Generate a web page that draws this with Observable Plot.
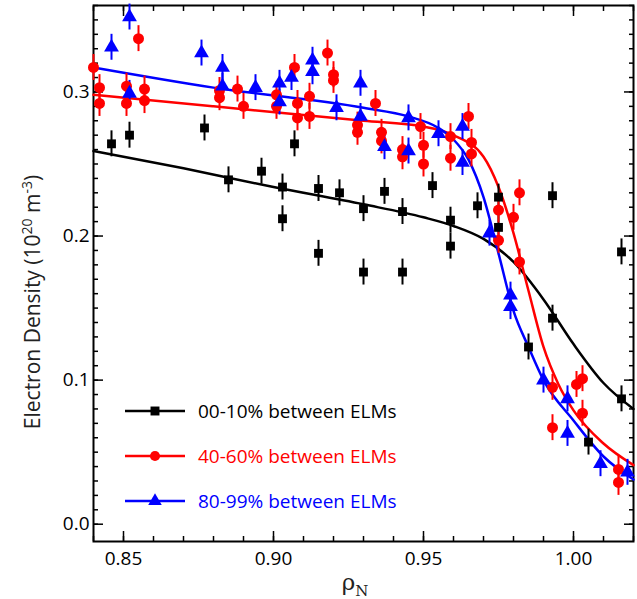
<!DOCTYPE html>
<html><head><meta charset="utf-8">
<script src="https://cdn.jsdelivr.net/npm/d3@7"></script>
<script src="https://cdn.jsdelivr.net/npm/@observablehq/plot@0.6"></script>
<style>body{margin:0;background:#fff}</style>
</head><body><div id="chart"></div>
<script>
// measured points: [rho, density]
const black = [[0.846,0.264],[0.852,0.270],[0.877,0.275],[0.885,0.239],[0.896,0.245],[0.903,0.234],[0.903,0.212],[0.907,0.264],
  [0.915,0.233],[0.915,0.188],[0.922,0.230],[0.930,0.219],[0.930,0.175],[0.937,0.231],[0.943,0.217],[0.943,0.175],[0.953,0.235],
  [0.959,0.211],[0.959,0.193],[0.968,0.221],[0.975,0.227],[0.975,0.206],[0.985,0.123],[0.993,0.228],[0.993,0.143],[1.005,0.057],
  [1.016,0.189],[1.016,0.087]];
const red = [[0.840,0.317],[0.842,0.303],[0.842,0.292],[0.855,0.337],[0.851,0.304],[0.851,0.292],[0.857,0.302],[0.857,0.294],
  [0.882,0.301],[0.882,0.296],[0.888,0.302],[0.890,0.290],[0.901,0.298],[0.901,0.290],[0.907,0.317],[0.908,0.292],[0.908,0.282],
  [0.912,0.297],[0.912,0.283],[0.918,0.327],[0.920,0.312],[0.920,0.308],[0.928,0.277],[0.928,0.272],[0.934,0.292],[0.936,0.272],
  [0.936,0.266],[0.943,0.260],[0.943,0.255],[0.949,0.276],[0.950,0.263],[0.950,0.250],[0.959,0.269],[0.959,0.254],[0.965,0.283],
  [0.966,0.265],[0.966,0.257],[0.975,0.218],[0.975,0.197],[0.980,0.213],[0.982,0.230],[0.982,0.182],[0.993,0.095],[0.993,0.067],
  [1.001,0.097],[1.003,0.101],[1.003,0.077],[1.015,0.038],[1.015,0.029]];
const blue = [[0.852,0.352],[0.846,0.331],[0.852,0.299],[0.876,0.327],[0.883,0.317],[0.883,0.304],[0.894,0.303],[0.902,0.306],
  [0.902,0.293],[0.906,0.310],[0.913,0.322],[0.913,0.314],[0.921,0.289],[0.929,0.306],[0.929,0.283],[0.937,0.262],[0.945,0.282],
  [0.945,0.259],[0.955,0.271],[0.963,0.276],[0.963,0.251],[0.972,0.202],[0.979,0.159],[0.979,0.151],[0.990,0.100],[0.998,0.087],
  [0.998,0.063],[1.009,0.042],[1.018,0.036]];
// fitted curves
const blackFit = [[0.84,0.259],[0.87,0.247],[0.90,0.234],[0.93,0.222],[0.95,0.213],[0.96,0.207],[0.97,0.198],[0.98,0.182],
  [0.99,0.156],[1.00,0.125],[1.01,0.098],[1.02,0.080]];
const redFit = [[0.84,0.298],[0.88,0.290],[0.93,0.280],[0.95,0.276],[0.96,0.270],[0.97,0.255],[0.975,0.234],[0.98,0.202],
  [0.985,0.162],[0.99,0.123],[0.995,0.097],[1.00,0.079],[1.01,0.056],[1.02,0.041]];
const blueFit = [[0.84,0.317],[0.88,0.303],[0.93,0.289],[0.945,0.283],[0.955,0.275],[0.96,0.267],[0.965,0.253],[0.97,0.227],
  [0.975,0.188],[0.98,0.148],[0.985,0.123],[0.99,0.100],[1.00,0.072],[1.01,0.047],[1.02,0.031]];
const xTicks = [0.85, 0.90, 0.95, 1.00];
const yTicks = [0.0, 0.1, 0.2, 0.3];
const legendLabels = ["00-10% between ELMs", "40-60% between ELMs", "80-99% between ELMs"];

const err = 0.009;
const bars = (pts, c) => Plot.ruleX(pts, {x: d => d[0], y1: d => d[1] - err, y2: d => d[1] + err, stroke: c, strokeWidth: 2});
const xMinor = d3.range(0.84, 1.0201, 0.01);
const yMinor = d3.range(0, 0.3601, 0.01);

const chart = Plot.plot({
  width: 637, height: 599,
  marginLeft: 93, marginRight: 4, marginTop: 5, marginBottom: 58,
  x: {domain: [0.84, 1.02]},
  y: {domain: [-0.012, 0.36]},
  style: {fontFamily: "Open Sans", fontSize: 19, color: "#000"},
  marks: [
    Plot.frame({strokeWidth: 2}),
    Plot.axisX(xMinor, {tickSize: -5, text: null, strokeWidth: 1.5, label: null}),
    Plot.axisX(xTicks, {tickSize: -10, tickFormat: d => d.toFixed(2), tickPadding: 20, strokeWidth: 1.5, label: null}),
    Plot.axisX(xMinor, {anchor: "top", tickSize: -5, text: null, strokeWidth: 1.5, label: null}),
    Plot.axisX(xTicks, {anchor: "top", tickSize: -10, text: null, strokeWidth: 1.5, label: null}),
    Plot.axisY(yMinor, {tickSize: -5, text: null, strokeWidth: 1.5, label: null}),
    Plot.axisY(yTicks, {tickSize: -10, tickFormat: d => d.toFixed(1), tickPadding: 14, strokeWidth: 1.5, label: null}),
    Plot.axisY(yMinor, {anchor: "right", tickSize: -5, text: null, strokeWidth: 1.5, label: null}),
    Plot.axisY(yTicks, {anchor: "right", tickSize: -10, text: null, strokeWidth: 1.5, label: null}),
    Plot.line(blackFit, {x: d => d[0], y: d => d[1], stroke: "black", strokeWidth: 2.5, curve: "monotone-x"}),
    Plot.line(redFit, {x: d => d[0], y: d => d[1], stroke: "red", strokeWidth: 2.5, curve: "monotone-x"}),
    Plot.line(blueFit, {x: d => d[0], y: d => d[1], stroke: "blue", strokeWidth: 2.5, curve: "monotone-x"}),
    bars(black, "black"), bars(red, "red"), bars(blue, "blue"),
    Plot.dot(black, {x: d => d[0], y: d => d[1], symbol: "square", r: 5, fill: "black"}),
    Plot.dot(red, {x: d => d[0], y: d => d[1], symbol: "circle", r: 5.5, fill: "red"}),
    Plot.dot(blue, {x: d => d[0], y: d => d[1], symbol: "triangle", r: 5.5, fill: "blue"})
  ]
});

const svg = d3.select(chart);
// axis titles
svg.append("text").attr("transform", "translate(40,302) rotate(-90)").attr("text-anchor", "middle")
  .attr("font-size", 21).attr("fill", "#222")
  .html('Electron Density (10<tspan dy="-8" font-size="14">20</tspan><tspan dy="8"> m</tspan><tspan dy="-8" font-size="14">-3</tspan><tspan dy="8">)</tspan>');
svg.append("text").attr("x", 355).attr("y", 590).attr("text-anchor", "middle").attr("font-size", 23)
  .attr("font-family", "DejaVu Serif").attr("fill", "#222")
  .html('ρ<tspan dy="6" font-size="15">N</tspan>');
// legend
const colors = ["black", "red", "blue"], syms = [d3.symbolSquare, d3.symbolCircle, d3.symbolTriangle];
legendLabels.forEach((t, i) => {
  const y = 411 + i * 45;
  const g = svg.append("g");
  g.append("line").attr("x1", 125).attr("x2", 185).attr("y1", y).attr("y2", y).attr("stroke", colors[i]).attr("stroke-width", 2.5);
  g.append("path").attr("d", d3.symbol(syms[i], 80)()).attr("transform", `translate(155,${y})`).attr("fill", colors[i]);
  g.append("text").attr("x", 198).attr("y", y + 7).attr("text-anchor", "start").attr("font-size", 19).attr("fill", colors[i]).text(t);
});
d3.select("#chart").append(() => chart);
</script></body></html>
